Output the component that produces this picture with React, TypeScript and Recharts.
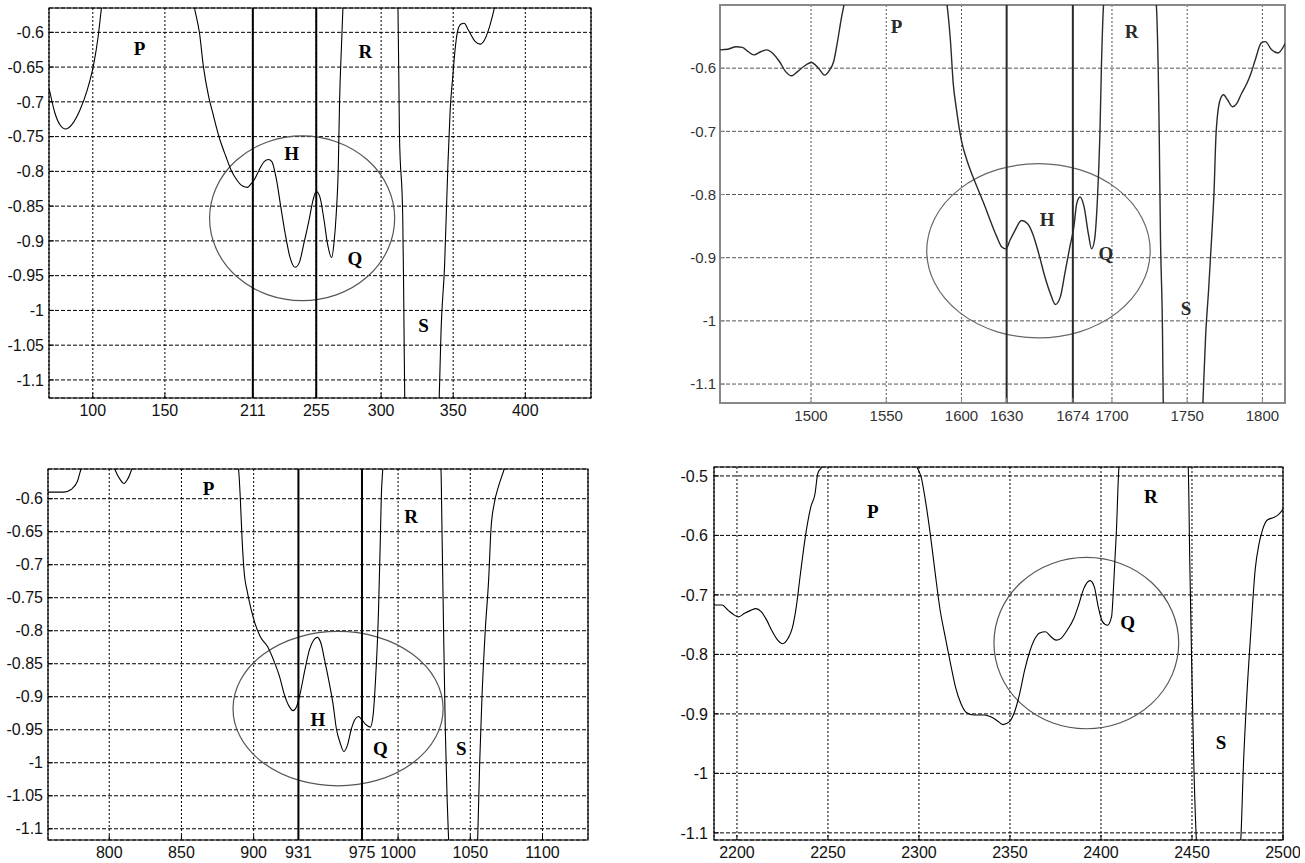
import React from 'react';
import {
  LineChart, Line, XAxis, YAxis, CartesianGrid,
  ReferenceLine, ReferenceArea, ReferenceDot,
} from 'recharts';

type Pt = [number, number];
type Lbl = [string, number, number];

// ---- panel 1 (top left) ----
const P1_X_TICKS = [100, 150, 211, 255, 300, 350, 400];
const P1_Y_TICKS = [-1.1, -1.05, -1, -0.95, -0.9, -0.85, -0.8, -0.75, -0.7, -0.65, -0.6];
const P1_MARKS = [211, 255];
const P1_OVAL = [181, 309.4, -0.986, -0.749];
const P1_LABELS: Lbl[] = [['P', 132.5, -0.623], ['R', 289, -0.628], ['H', 238, -0.774], ['Q', 281.8, -0.925], ['S', 329.5, -1.021]];
const P1_CURVE: Pt[] = [
  [69.8, -0.682], [73.7, -0.716], [77.2, -0.733], [81.1, -0.739], [85.3, -0.733], [91, -0.712], [96.1, -0.683],
  [100.7, -0.645], [103.7, -0.606], [106, -0.565], [115, -0.47], [140, -0.42], [162, -0.47], [170.5, -0.565],
  [174, -0.601], [176.7, -0.649], [180.4, -0.693], [183.2, -0.716], [187.8, -0.752], [192.4, -0.779], [195.9, -0.798],
  [199.8, -0.812], [203.9, -0.821], [207.4, -0.823], [209.7, -0.818], [212, -0.812], [215.4, -0.798], [218.9, -0.786],
  [221.9, -0.783], [224.2, -0.786], [227.4, -0.812], [230.4, -0.851], [233.4, -0.889], [236.7, -0.923], [240.3, -0.938],
  [243.1, -0.932], [246.5, -0.903], [250, -0.87], [252.8, -0.841], [255, -0.829], [257.4, -0.836], [260.4, -0.87],
  [262.7, -0.903], [265.7, -0.924], [267.3, -0.903], [268.9, -0.86], [270.3, -0.793], [271.2, -0.697], [272.4, -0.625],
  [273.5, -0.565], [280, -0.4], [295, -0.35], [307, -0.45], [311.7, -0.566], [312.7, -0.745], [315, -0.865],
  [315.7, -0.985], [316.4, -1.129], [322, -1.35], [336, -1.35], [340.3, -1.126], [341.6, -1.028], [344, -0.937],
  [346.3, -0.793], [347.9, -0.712], [349.7, -0.664], [351.3, -0.625], [353.2, -0.597], [355.5, -0.588], [357.6, -0.587],
  [360.6, -0.597], [365.2, -0.613], [368.7, -0.617], [371.7, -0.611], [374.9, -0.594], [378.6, -0.565], [390, -0.45],
  [420, -0.4], [446, -0.4],
];

// ---- panel 2 (top right) ----
const P2_X_TICKS = [1500, 1550, 1600, 1630, 1674, 1700, 1750, 1800];
const P2_Y_TICKS = [-1.1, -1, -0.9, -0.8, -0.7, -0.6];
const P2_MARKS = [1630, 1674];
const P2_OVAL = [1576.9, 1725.4, -1.027, -0.751];
const P2_LABELS: Lbl[] = [['P', 1556.8, -0.534], ['R', 1713, -0.542], ['H', 1656.9, -0.839], ['Q', 1696, -0.894], ['S', 1749.3, -0.98]];
const P2_CURVE: Pt[] = [
  [1439.2, -0.571], [1444.7, -0.57], [1450.2, -0.566], [1454.3, -0.567], [1458.4, -0.574], [1461.9, -0.579],
  [1466.6, -0.574], [1470.7, -0.571], [1474.8, -0.577], [1478.9, -0.589], [1483, -0.605], [1487.1, -0.612],
  [1491.2, -0.605], [1495.3, -0.597], [1500.3, -0.591], [1504.9, -0.6], [1509, -0.611], [1512.3, -0.603],
  [1515.1, -0.589], [1517.8, -0.555], [1520, -0.523], [1521.9, -0.5], [1530, -0.42], [1556, -0.36], [1582, -0.42],
  [1590.4, -0.5], [1592.6, -0.555], [1594.5, -0.624], [1596.7, -0.666], [1599.9, -0.714], [1603.5, -0.745],
  [1607.6, -0.772], [1611.7, -0.796], [1615.8, -0.82], [1619.9, -0.846], [1623.5, -0.867], [1626.8, -0.883],
  [1629.5, -0.886], [1632.3, -0.872], [1635.5, -0.857], [1639.9, -0.841], [1643.8, -0.846], [1647.3, -0.862],
  [1651.4, -0.894], [1655.5, -0.931], [1659.1, -0.957], [1662.4, -0.974], [1665.7, -0.962], [1668.7, -0.925],
  [1672, -0.883], [1674.7, -0.851], [1676.6, -0.814], [1678.8, -0.804], [1681.5, -0.82], [1684.3, -0.862],
  [1686.5, -0.886], [1688.4, -0.872], [1690.3, -0.809], [1692, -0.703], [1693, -0.597], [1694.4, -0.5],
  [1705, -0.3], [1722, -0.35], [1729.5, -0.5], [1731.4, -0.703], [1732.2, -0.862], [1733.6, -1.021], [1734.1, -1.132],
  [1742, -1.4], [1754, -1.4], [1760.4, -1.132], [1762.3, -1.021], [1764.2, -0.952], [1766.4, -0.862], [1767.8, -0.798],
  [1769.2, -0.703], [1771.9, -0.65], [1774.1, -0.642], [1776.8, -0.65], [1780.1, -0.661], [1782.9, -0.656],
  [1786.1, -0.64], [1789.7, -0.624], [1792.4, -0.608], [1795.2, -0.587], [1799.3, -0.56], [1802, -0.558],
  [1806.1, -0.571], [1810.2, -0.576], [1815.7, -0.558],
];

// ---- panel 3 (bottom left) ----
const P3_X_TICKS = [800, 850, 900, 931, 975, 1000, 1050, 1100];
const P3_Y_TICKS = [-1.1, -1.05, -1, -0.95, -0.9, -0.85, -0.8, -0.75, -0.7, -0.65, -0.6];
const P3_MARKS = [931, 975];
const P3_OVAL = [885.7, 1031.2, -1.035, -0.801];
const P3_LABELS: Lbl[] = [['P', 868.8, -0.584], ['R', 1009, -0.627], ['H', 944.4, -0.935], ['Q', 987.7, -0.978], ['S', 1043.8, -0.978]];
const P3_CURVE: Pt[] = [
  [757.6, -0.59], [768.6, -0.59], [773.6, -0.586], [777.9, -0.574], [780.4, -0.555], [786, -0.51], [792, -0.5],
  [798, -0.51], [803.8, -0.555], [807.6, -0.571], [810.1, -0.577], [812.6, -0.571], [815.6, -0.555], [825, -0.45],
  [850, -0.4], [875, -0.45], [889.5, -0.555], [890.7, -0.597], [892, -0.662], [893.3, -0.708], [895.8, -0.743],
  [898.3, -0.768], [900.8, -0.788], [904.6, -0.809], [909.6, -0.824], [914.6, -0.849], [917.9, -0.869], [920.9, -0.894],
  [924.7, -0.915], [927.2, -0.921], [929.7, -0.915], [932.3, -0.894], [935.5, -0.859], [938.6, -0.829], [941.6, -0.814],
  [944.1, -0.81], [946.6, -0.819], [949.1, -0.844], [951.9, -0.874], [954.9, -0.91], [957.4, -0.95], [959.9, -0.97],
  [962.5, -0.983], [965, -0.973], [967.5, -0.95], [970, -0.935], [972.5, -0.93], [975, -0.935], [977.5, -0.942],
  [980.8, -0.946], [982.6, -0.93], [984.4, -0.874], [986.4, -0.773], [987.6, -0.672], [988.4, -0.596], [989.4, -0.555],
  [995, -0.4], [1015, -0.35], [1025, -0.45], [1029.7, -0.555], [1030.4, -0.647], [1031.5, -0.798], [1032.7, -0.95],
  [1033.9, -1.051], [1035, -1.117], [1042, -1.4], [1048, -1.4], [1055.1, -1.117], [1056.5, -1.0], [1058.1, -0.9],
  [1060.4, -0.798], [1062.7, -0.723], [1064.3, -0.647], [1066.6, -0.607], [1069.6, -0.581], [1073.5, -0.555],
  [1090, -0.4], [1131.5, -0.4],
];

// ---- panel 4 (bottom right) ----
const P4_X_TICKS = [2200, 2250, 2300, 2350, 2400, 2450, 2500];
const P4_Y_TICKS = [-1.1, -1, -0.9, -0.8, -0.7, -0.6, -0.5];
const P4_MARKS: number[] = [];
const P4_OVAL = [2341.2, 2442.7, -0.925, -0.637];
const P4_LABELS: Lbl[] = [['P', 2274.6, -0.56], ['R', 2427.4, -0.535], ['Q', 2414.7, -0.747], ['S', 2466, -0.948]];
const P4_CURVE: Pt[] = [
  [2187.4, -0.717], [2191.8, -0.717], [2195.2, -0.726], [2198.6, -0.734], [2200.8, -0.737], [2204.2, -0.731],
  [2207.6, -0.726], [2210.4, -0.723], [2213.3, -0.728], [2216.3, -0.742], [2219, -0.759], [2222.4, -0.776],
  [2225.1, -0.782], [2228.1, -0.773], [2230.4, -0.756], [2232.6, -0.72], [2234.9, -0.664], [2237.6, -0.602],
  [2240.6, -0.552], [2242.9, -0.53], [2244.4, -0.496], [2246.7, -0.485], [2258, -0.4], [2275, -0.37], [2290, -0.42],
  [2298.9, -0.485], [2301.2, -0.502], [2304.1, -0.552], [2306.4, -0.602], [2308.7, -0.658], [2311.6, -0.725],
  [2314.4, -0.77], [2317.3, -0.815], [2320, -0.854], [2323, -0.882], [2326.2, -0.898], [2330.3, -0.902], [2336, -0.902],
  [2339.4, -0.905], [2342.8, -0.911], [2346.2, -0.918], [2349.7, -0.913], [2352.6, -0.896], [2355.4, -0.865],
  [2358.1, -0.826], [2361.1, -0.793], [2363.3, -0.776], [2366.3, -0.764], [2369.5, -0.762], [2372.4, -0.77],
  [2375.4, -0.776], [2378.1, -0.773], [2381.5, -0.759], [2385, -0.74], [2387.7, -0.717], [2390.6, -0.689],
  [2394, -0.676], [2396.3, -0.686], [2398.5, -0.72], [2400.8, -0.745], [2403.5, -0.751], [2405.8, -0.737],
  [2407.1, -0.675], [2408.5, -0.591], [2409.9, -0.485], [2420, -0.35], [2438, -0.35], [2447.9, -0.485],
  [2448.8, -0.647], [2449.9, -0.826], [2451, -0.983], [2452.4, -1.112], [2458, -1.3], [2470, -1.3], [2476.8, -1.112],
  [2478.3, -0.983], [2480.1, -0.871], [2482.4, -0.759], [2484.7, -0.658], [2486.9, -0.613], [2488.7, -0.591],
  [2491.4, -0.574], [2494.8, -0.57], [2497.1, -0.566], [2500, -0.556],
];

const SANS = '"Liberation Sans", Arial, sans-serif';
const SERIF = '"Liberation Serif", "Times New Roman", serif';

const ovalShape = (color: string) => (props: any) => {
  const { x, y, width, height } = props;
  return (
    <ellipse cx={x + width / 2} cy={y + height / 2} rx={Math.abs(width) / 2} ry={Math.abs(height) / 2}
      fill="none" stroke={color} strokeWidth={1.2} />
  );
};

const letterShape = (text: string, color: string) => (props: any) => (
  <text x={props.cx} y={props.cy} textAnchor="middle" dominantBaseline="central"
    fontFamily={SERIF} fontWeight="bold" fontSize={19} fill={color}>{text}</text>
);

interface PanelProps {
  left: number; top: number; width: number; height: number;
  margin: { top: number; right: number; left: number; bottom: number };
  yWidth: number; xHeight: number; yGap: number;
  xDomain: [number, number]; yDomain: [number, number];
  xTicks: number[]; yTicks: number[];
  curve: Pt[]; marks: number[]; oval: number[]; labels: Lbl[];
  soft?: boolean;
}

const Panel: React.FC<PanelProps> = (p) => {
  const data = p.curve.map(([x, y]) => ({ x, y }));
  const ink = p.soft ? '#2a2a2a' : '#000';
  const grid = p.soft ? '#555' : '#000';
  const frame = p.soft ? '#888' : '#000';
  const tick = { fontSize: p.soft ? 15 : 16, fill: p.soft ? '#333' : '#111', fontFamily: SANS };

  return (
    <div style={{ position: 'absolute', left: p.left, top: p.top }}>
      <LineChart width={p.width} height={p.height} data={data} margin={p.margin}>
        <CartesianGrid vertical={false} stroke={grid} strokeDasharray="4 2" />
        <CartesianGrid horizontal={false} stroke={grid} strokeDasharray="2 2" />
        {/* negative tick size = MATLAB style inward ticks */}
        <XAxis type="number" dataKey="x" domain={p.xDomain} ticks={p.xTicks} interval={0} allowDataOverflow
          height={p.xHeight} tickSize={-5} tickMargin={12} axisLine={false}
          tickLine={{ stroke: frame }} tick={tick} />
        <YAxis type="number" domain={p.yDomain} ticks={p.yTicks} interval={0} allowDataOverflow
          width={p.yWidth} tickSize={-5} tickMargin={p.yGap + 5} axisLine={false}
          tickLine={{ stroke: frame }} tick={tick} />
        {p.marks.map((m) => (
          <ReferenceLine key={m} x={m} stroke={ink} strokeWidth={2} />
        ))}
        <ReferenceArea x1={p.oval[0]} x2={p.oval[1]} y1={p.oval[2]} y2={p.oval[3]} ifOverflow="visible"
          shape={ovalShape(p.soft ? '#666' : '#555')} />
        <Line dataKey="y" type="monotone" stroke={ink} strokeWidth={p.soft ? 1.4 : 1.1} dot={false}
          isAnimationActive={false} />
        <ReferenceArea x1={p.xDomain[0]} x2={p.xDomain[1]} y1={p.yDomain[0]} y2={p.yDomain[1]} ifOverflow="visible"
          fill="none" fillOpacity={0} stroke={frame} strokeWidth={p.soft ? 2 : 1.2} />
        {p.labels.map(([t, x, y]) => (
          <ReferenceDot key={t} x={x} y={y} r={0} shape={letterShape(t, ink)} />
        ))}
      </LineChart>
    </div>
  );
};

export default function App() {
  return (
    <div style={{ position: 'absolute', left: 0, top: 0, width: 1305, height: 863, background: '#fff', overflow: 'hidden' }}>
      <Panel left={0} top={0} width={600} height={425} margin={{ top: 8, right: 9, left: 0, bottom: 0 }}
        yWidth={49} xHeight={27} yGap={5} xDomain={[69.6, 445.6]} yDomain={[-1.126, -0.565]}
        xTicks={P1_X_TICKS} yTicks={P1_Y_TICKS} curve={P1_CURVE} marks={P1_MARKS} oval={P1_OVAL} labels={P1_LABELS} />
      <Panel left={660} top={0} width={640} height={430} margin={{ top: 5, right: 15, left: 0, bottom: 0 }}
        yWidth={60} xHeight={27} yGap={4} xDomain={[1439.5, 1815]} yDomain={[-1.13, -0.5]}
        xTicks={P2_X_TICKS} yTicks={P2_Y_TICKS} curve={P2_CURVE} marks={P2_MARKS} oval={P2_OVAL} labels={P2_LABELS} soft />
      <Panel left={0} top={440} width={600} height={423} margin={{ top: 29, right: 12, left: 0, bottom: 0 }}
        yWidth={48} xHeight={23} yGap={5} xDomain={[757.6, 1131.5]} yDomain={[-1.117, -0.555]}
        xTicks={P3_X_TICKS} yTicks={P3_Y_TICKS} curve={P3_CURVE} marks={P3_MARKS} oval={P3_OVAL} labels={P3_LABELS} />
      <Panel left={660} top={440} width={640} height={423} margin={{ top: 27, right: 17, left: 0, bottom: 0 }}
        yWidth={54} xHeight={23} yGap={6} xDomain={[2187.4, 2500]} yDomain={[-1.112, -0.485]}
        xTicks={P4_X_TICKS} yTicks={P4_Y_TICKS} curve={P4_CURVE} marks={P4_MARKS} oval={P4_OVAL} labels={P4_LABELS} />
    </div>
  );
}
